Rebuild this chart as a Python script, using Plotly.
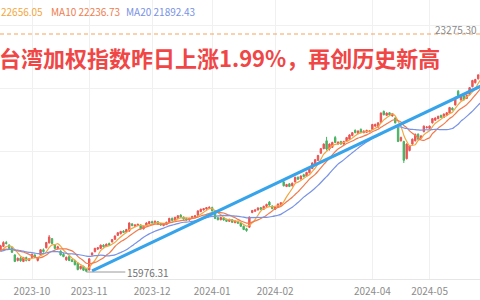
import pandas as pd
import plotly.graph_objects as go

# ---------------- data ----------------
HOLIDAYS = ["2023-09-29", "2023-10-09", "2023-10-10", "2024-01-01",
            "2024-02-06", "2024-02-07", "2024-02-08", "2024-02-09",
            "2024-02-12", "2024-02-13", "2024-02-14", "2024-02-28",
            "2024-04-04", "2024-04-05", "2024-05-01"]
dates = [d.strftime("%Y-%m-%d") for d in pd.bdate_range("2023-08-18", "2024-05-28")
         if d.strftime("%Y-%m-%d") not in HOLIDAYS]

opens = [
    16420, 16390, 16330, 16480, 16580, 16600, 16590, 16620, 16720, 16760,
    16650, 16700, 16740, 16730, 16600, 16520, 16560, 16540, 16610, 16640,
    16760, 16880, 16800, 16720, 16500, 16330, 16400, 16300, 16420, 16330,
    16420, 16500, 16330, 16500, 16660, 16720, 16870, 17000, 16800, 16700,
    16620, 16520, 16350, 16450, 16350, 16320, 16250, 16080, 16150, 16080,
    16040, 16500, 16600, 16680, 16700, 16800, 16760, 16850, 16900, 16980,
    17100, 17150, 17230, 17200, 17230, 17450, 17380, 17400, 17420, 17300,
    17400, 17460, 17520, 17480, 17520, 17450, 17400, 17430, 17500, 17620,
    17560, 17620, 17720, 17660, 17620, 17570, 17620, 17660, 17720, 17830,
    17880, 17910, 17930, 17950, 17850, 17640, 17580, 17640, 17590, 17530,
    17580, 17490, 17530, 17480, 17380, 17300, 17350, 17800, 17840, 17880,
    17950, 17900, 17990, 18120, 18000, 17900, 17960, 18050, 18740, 18600,
    18680, 18620, 18740, 18880, 18830, 18960, 18920, 19020, 19150, 19300,
    19400, 19620, 19760, 20000, 19750, 19800, 20100, 19900, 19980, 19900,
    19990, 20050, 20160, 20320, 20220, 20350, 20250, 20260, 20280, 20350,
    20450, 20420, 20570, 20900, 20780, 20860, 20760, 20700, 20400, 20000,
    19980, 19450, 19700, 19900, 20000, 20200, 20080, 20280, 20400, 20380,
    20550, 20630, 20680, 20780, 20720, 20780, 20850, 21000, 21100, 21520,
    21250, 21380, 21300, 21420, 21660, 21780, 21900, 22000,
]
highs = [
    16450, 16400, 16480, 16560, 16660, 16620, 16630, 16720, 16850, 16790,
    16710, 16760, 16800, 16750, 16620, 16580, 16580, 16620, 16690, 16810,
    16920, 16930, 16830, 16740, 16520, 16420, 16440, 16440, 16450, 16400,
    16540, 16520, 16440, 16680, 16700, 16900, 17110, 17020, 16820, 16780,
    16640, 16560, 16450, 16480, 16380, 16340, 16270, 16170, 16170, 16100,
    16400, 16580, 16720, 16740, 16820, 16830, 16850, 16880, 16990, 17100,
    17200, 17240, 17260, 17300, 17500, 17480, 17440, 17460, 17440, 17400,
    17500, 17540, 17550, 17560, 17540, 17480, 17470, 17520, 17640, 17650,
    17670, 17720, 17750, 17680, 17640, 17640, 17700, 17720, 17870, 17920,
    17940, 17970, 17990, 17980, 17870, 17670, 17670, 17660, 17610, 17610,
    17600, 17560, 17550, 17500, 17400, 17330, 17680, 17880, 17900, 17960,
    17970, 18010, 18070, 18150, 18020, 17980, 18080, 18120, 18790, 18680,
    18700, 18720, 18900, 18910, 18940, 18990, 19050, 19150, 19340, 19440,
    19570, 19780, 19920, 20120, 19920, 19970, 20150, 19980, 20000, 20000,
    20120, 20200, 20270, 20350, 20320, 20380, 20320, 20340, 20330, 20520,
    20530, 20570, 20870, 20930, 20870, 20880, 20850, 20720, 20420, 20130,
    20000, 19920, 19870, 20070, 20220, 20230, 20170, 20470, 20450, 20470,
    20700, 20720, 20770, 20800, 20840, 20880, 21040, 21030, 21350, 21560,
    21370, 21400, 21420, 21650, 21870, 21900, 22040, 22120,
]
lows = [
    16350, 16280, 16320, 16450, 16560, 16540, 16560, 16610, 16700, 16610,
    16620, 16680, 16720, 16600, 16530, 16490, 16480, 16520, 16590, 16620,
    16740, 16820, 16680, 16560, 16280, 16300, 16290, 16280, 16300, 16310,
    16400, 16400, 16300, 16480, 16570, 16700, 16850, 16830, 16680, 16660,
    16480, 16430, 16320, 16310, 16280, 16180, 16030, 16050, 16010, 15976.31,
    16020, 16480, 16580, 16650, 16690, 16730, 16740, 16780, 16880, 16960,
    17080, 17130, 17170, 17180, 17220, 17380, 17360, 17380, 17280, 17280,
    17380, 17440, 17460, 17470, 17430, 17400, 17380, 17420, 17490, 17540,
    17540, 17600, 17640, 17580, 17550, 17550, 17600, 17650, 17700, 17810,
    17860, 17890, 17910, 17830, 17600, 17560, 17560, 17550, 17510, 17510,
    17480, 17470, 17450, 17360, 17260, 17210, 17330, 17780, 17820, 17860,
    17880, 17880, 17970, 18010, 17900, 17880, 17940, 18030, 18600, 18580,
    18580, 18600, 18720, 18800, 18810, 18880, 18900, 19000, 19130, 19280,
    19380, 19600, 19740, 19700, 19700, 19780, 19930, 19880, 19880, 19880,
    19970, 20030, 20140, 20230, 20200, 20230, 20230, 20240, 20260, 20330,
    20430, 20400, 20550, 20780, 20760, 20770, 20740, 20530, 19960, 19980,
    19320, 19430, 19680, 19880, 19980, 20030, 20060, 20260, 20380, 20360,
    20530, 20610, 20660, 20700, 20700, 20760, 20830, 20930, 21080, 21360,
    21230, 21240, 21280, 21400, 21640, 21760, 21880, 21980,
]
closes = [
    16380, 16310, 16460, 16540, 16640, 16580, 16600, 16700, 16830, 16630,
    16680, 16730, 16760, 16620, 16560, 16550, 16510, 16600, 16660, 16780,
    16880, 16850, 16700, 16580, 16300, 16400, 16320, 16420, 16330, 16380,
    16520, 16420, 16420, 16660, 16600, 16880, 17050, 16850, 16700, 16750,
    16500, 16450, 16430, 16330, 16300, 16200, 16050, 16150, 16030, 16000,
    16380, 16560, 16700, 16720, 16800, 16750, 16830, 16800, 16970, 17080,
    17180, 17220, 17190, 17280, 17480, 17400, 17420, 17440, 17300, 17380,
    17480, 17520, 17480, 17530, 17450, 17420, 17450, 17500, 17620, 17560,
    17650, 17700, 17660, 17600, 17570, 17620, 17680, 17700, 17850, 17900,
    17920, 17950, 17960, 17850, 17620, 17580, 17650, 17570, 17530, 17590,
    17500, 17540, 17470, 17380, 17280, 17250, 17660, 17860, 17880, 17940,
    17900, 17990, 18050, 18030, 17920, 17960, 18060, 18100, 18620, 18660,
    18600, 18700, 18880, 18820, 18920, 18900, 19030, 19130, 19320, 19420,
    19550, 19760, 19900, 19750, 19900, 19950, 19950, 19960, 19900, 19980,
    20100, 20180, 20250, 20250, 20300, 20250, 20300, 20320, 20300, 20500,
    20500, 20550, 20850, 20800, 20850, 20790, 20830, 20550, 19980, 20100,
    19400, 19900, 19850, 20050, 20200, 20050, 20150, 20450, 20420, 20450,
    20680, 20700, 20750, 20720, 20820, 20860, 21020, 20950, 21330, 21380,
    21350, 21260, 21400, 21630, 21850, 21880, 22020, 22100,
]
assert len(dates) == len(opens) == len(highs) == len(lows) == len(closes)

ma_names = ["MA5", "MA10", "MA20"]
ma_windows = [5, 10, 20]
ma_latest = ["22656.05", "22236.73", "21892.43"]

tick_dates = ["2023-10-02", "2023-11-01", "2023-12-01", "2024-01-02",
              "2024-02-01", "2024-04-01", "2024-05-02"]
tick_labels = ["2023-10", "2023-11", "2023-12", "2024-01",
               "2024-02", "2024-04", "2024-05"]

low_date, low_value = "2023-10-31", 15976.31
max_value = 23275.30
trend_dates = ["2023-11-02", "2024-05-28"]
trend_values = [16010, 21681]

title_text = "台湾加权指数昨日上涨1.99%，再创历史新高"

# ---------------- styles ----------------
UP, DOWN = "#eb5454", "#47b262"
MA_COLORS = ["#f3a73f", "#f07c4e", "#7892e6"]
FONT = "Noto Sans CJK SC"
GRID = "#f0f0f0"

fig = go.Figure()
fig.add_trace(go.Candlestick(
    x=dates, open=opens, high=highs, low=lows, close=closes,
    increasing=dict(line=dict(color=UP, width=1), fillcolor=UP),
    decreasing=dict(line=dict(color=DOWN, width=1), fillcolor=DOWN),
    whiskerwidth=0, showlegend=False, hoverinfo="skip",
))

cs = pd.Series(closes)
for name, w, col in zip(ma_names, ma_windows, MA_COLORS):
    fig.add_trace(go.Scatter(
        x=dates, y=cs.rolling(w).mean(), mode="lines", name=name,
        line=dict(color=col, width=1.2, shape="spline", smoothing=0.6),
        showlegend=False, hoverinfo="skip",
    ))

fig.add_trace(go.Scatter(
    x=trend_dates, y=trend_values, mode="lines",
    line=dict(color="#36a3ea", width=3), showlegend=False, hoverinfo="skip",
))

# max dashed line
fig.add_shape(type="line", xref="paper", x0=0, x1=1, yref="y",
              y0=max_value, y1=max_value,
              line=dict(color="#f5a35a", width=1, dash="4px,3px"))
fig.add_annotation(xref="paper", x=1, xanchor="right", xshift=-1,
                   yref="y", y=max_value, yanchor="middle", yshift=5,
                   text=f"{max_value:.2f}", showarrow=False,
                   font=dict(family=FONT, size=10, color="#8a8a8a"))

# low marker
fig.add_annotation(x=low_date, y=low_value, xref="x", yref="y",
                   text=f"{low_value:.2f}", showarrow=True, arrowhead=0,
                   arrowwidth=1, arrowcolor="#9a9a9a", ax=39, ay=0,
                   xanchor="left", font=dict(family=FONT, size=10, color="#707070"))

# title
fig.add_annotation(xref="paper", yref="paper", x=0, y=(279 - 57) / 279,
                   xanchor="left", yanchor="middle", xshift=-3,
                   text=f"<b>{title_text}</b>", showarrow=False,
                   font=dict(family=FONT, size=22, color="#f04646"))

# legend-like header (the MA5 label lies beyond the visible left edge,
# only its value is shown)
legend_texts = [ma_latest[0], f"{ma_names[1]} {ma_latest[1]}", f"{ma_names[2]} {ma_latest[2]}"]
legend_px = [0, 50, 125]
for txt, col, px in zip(legend_texts, MA_COLORS, legend_px):
    fig.add_annotation(xref="paper", yref="paper", x=px / 480, y=(279 - 12) / 279,
                       xanchor="left", yanchor="middle", xshift=-1, text=txt,
                       showarrow=False, font=dict(family=FONT, size=10, color=col))

# grid values (pixel rows 26, 89, 152, 216)
grid_vals = [23521, 21589, 19657, 17694]

fig.update_layout(
    width=480, height=300, margin=dict(l=0, r=0, t=0, b=21, pad=0),
    paper_bgcolor="white", plot_bgcolor="white",
    xaxis=dict(type="category", range=[18.81, 186.64], rangeslider=dict(visible=False),
               tickmode="array", tickvals=tick_dates, ticktext=tick_labels,
               showgrid=True, gridcolor=GRID, gridwidth=1, ticks="",
               showline=True, linecolor="#e6e6e6", linewidth=1,
               ticklabelstandoff=3,
               tickfont=dict(family=FONT, size=10, color="#8c8c8c"),
               fixedrange=True),
    yaxis=dict(range=[15762, 24318], tickmode="array", tickvals=grid_vals,
               showticklabels=False, showgrid=True, gridcolor=GRID,
               zeroline=False, fixedrange=True),
    showlegend=False,
)

fig.write_html("out.html")
